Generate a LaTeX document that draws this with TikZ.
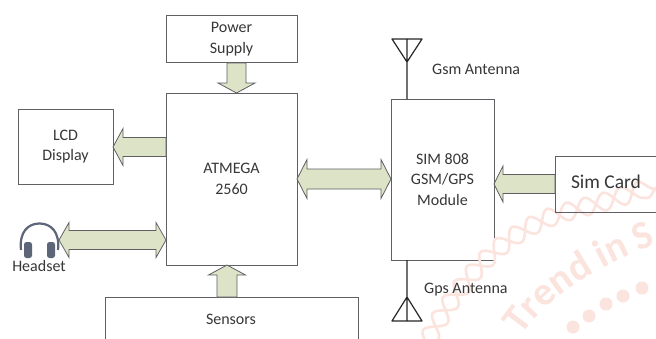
\documentclass[tikz,border=0pt]{standalone}
\usepackage{fontspec}
\setmainfont{Carlito}
\usetikzlibrary{calc,decorations.text,decorations.pathmorphing}
\definecolor{edgec}{RGB}{95,95,100}
\definecolor{fillc}{RGB}{221,227,198}
\definecolor{wm}{RGB}{251,228,222}
\definecolor{txt}{RGB}{55,55,55}
\definecolor{hsc}{RGB}{92,102,120}
\tikzset{
 blockbox/.style={draw=edgec,line width=0.9pt,fill=white,inner sep=0pt,align=center,text=txt,font=\fontsize{16}{20.5}\selectfont},
 openbox/.style={draw=edgec,line width=0.9pt},
 fat/.style={draw=edgec,line width=0.8pt,fill=fillc,line join=miter},
 lab/.style={text=txt,inner sep=0pt,font=\fontsize{16}{20}\selectfont},
 ant/.style={draw=black!85,line width=1.2pt,line join=round},
 rope/.style={draw=wm,line width=2.6pt,decorate,decoration={snake,segment length=38pt,amplitude=9pt}},
 ropem/.style={draw=wm,line width=2.6pt,decorate,decoration={snake,segment length=38pt,amplitude=9pt,mirror}},
}
\newcommand{\hfat}[5]{\path let \p1=(#1),\p2=(#2),\n1={(\x2>\x1?1:-1)*#3} in
 [fat,draw] (\x1,\y2+#4) -- (\x2-\n1,\y2+#4) -- (\x2-\n1,\y2+#5) -- (\x2,\y2) -- (\x2-\n1,\y2-#5) -- (\x2-\n1,\y2-#4) -- (\x1,\y2-#4) -- cycle;}
\newcommand{\vfat}[5]{\path let \p1=(#1),\p2=(#2),\n1={(\y2>\y1?1:-1)*#3} in
 [fat,draw] (\x2+#4,\y1) -- (\x2+#4,\y2-\n1) -- (\x2+#5,\y2-\n1) -- (\x2,\y2) -- (\x2-#5,\y2-\n1) -- (\x2-#4,\y2-\n1) -- (\x1-#4,\y1) -- cycle;}
\newcommand{\dfat}[5]{\path let \p1=(#1),\p2=(#2) in
 [fat,draw] (\x1,\y1) -- (\x1+#3,\y1-#5) -- (\x1+#3,\y1-#4) -- (\x2-#3,\y1-#4) -- (\x2-#3,\y1-#5) -- (\x2,\y1) -- (\x2-#3,\y1+#5) -- (\x2-#3,\y1+#4) -- (\x1+#3,\y1+#4) -- (\x1+#3,\y1+#5) -- cycle;}
\begin{document}
\begin{tikzpicture}[x=1pt,y=-1pt]
\useasboundingbox (0,0) rectangle (656,338);
\fill[white] (0,0) rectangle (656,338);
% boxes
\node[blockbox,minimum width=131pt,minimum height=47.5pt] (ps) at (231.5,39) {Power\\Supply};
\node[blockbox,minimum width=131pt,minimum height=172pt] (mcu) at (231.5,179) {ATMEGA\\2560};
\node[blockbox,minimum width=95pt,minimum height=75pt] (lcd) at (65.5,146.5) {LCD\\Display};
\node[blockbox,minimum width=103pt,minimum height=161pt] (sim) at (442.5,179.5) {SIM 808\\GSM/GPS\\Module};
% watermark, printed over the boxes
\begin{scope}
\clip (0,0) rectangle (656,338);
\draw[rope] (425,345) .. controls (455,290) and (490,250) .. (540,228) .. controls (580,212) and (625,210) .. (665,182);
\draw[ropem] (425,345) .. controls (455,290) and (490,250) .. (540,228) .. controls (580,212) and (625,210) .. (665,182);
\path[decorate,decoration={text along path,text align={left},
  text={|\bfseries\fontsize{40}{40}\selectfont\color{wm}|Trend in S}}]
  (522,336) .. controls (548,296) and (600,262) .. (690,232);
\foreach \px/\py in {573/327,589/316,606/304,623/296,642/288}{\fill[wm] (\px,\py) circle (6.5pt);}
\end{scope}
% open boxes
\draw[openbox] (105,345) -- (105,297) -- (358,297) -- (358,345);
\node[lab] (sens) at (231,319) {Sensors};
\draw[openbox] (664,156) -- (555,156) -- (555,212) -- (664,212);
\node[lab,font=\fontsize{19.5}{22}\selectfont] (simc) at (606,182) {Sim Card};
% fat arrows
\coordinate (a1) at (236.5,63); \coordinate (a2) at (236.5,93);
\vfat{a1}{a2}{10}{9.5}{18.5}
\coordinate (b1) at (166,147); \coordinate (b2) at (113,147);
\hfat{b1}{b2}{10}{9.5}{18.5}
\coordinate (c1) at (59,240); \coordinate (c2) at (166,240);
\dfat{c1}{c2}{10}{9.5}{17.5}
\coordinate (d1) at (297,179); \coordinate (d2) at (391,179);
\dfat{d1}{d2}{10}{10}{19.5}
\coordinate (e1) at (555,184); \coordinate (e2) at (494,184);
\hfat{e1}{e2}{9}{9.5}{18}
\coordinate (f1) at (227,297); \coordinate (f2) at (227,265);
\vfat{f1}{f2}{10}{10}{18.5}
% antennas
\coordinate (g0) at (407,99); \coordinate (g1) at (407,62);
\draw[ant] (g0) -- (g1) (g1) -- (392,39) -- (422,39) -- cycle (407,39) -- (g1);
\coordinate (h0) at (407,260); \coordinate (h1) at (407,297);
\draw[ant] (h0) -- (h1) (h1) -- (392,321) -- (422,321) -- cycle (407,321) -- (h1);
\node[lab,anchor=west] (gl) at (432,69) {Gsm Antenna};
\node[lab,anchor=west] (pl) at (424,290) {Gps Antenna};
% headset
\node[lab] (hs) at (39,266) {Headset};
\draw[hsc,line width=2.2pt] (21,250) .. controls (19,232) and (28,223.5) .. (39.5,223.5) .. controls (51,223.5) and (60,232) .. (58,250);
\fill[hsc,rounded corners=2.5pt] (24,242) rectangle (32,258);
\fill[hsc,rounded corners=2.5pt] (47,242) rectangle (55,258);
\end{tikzpicture}
\end{document}
